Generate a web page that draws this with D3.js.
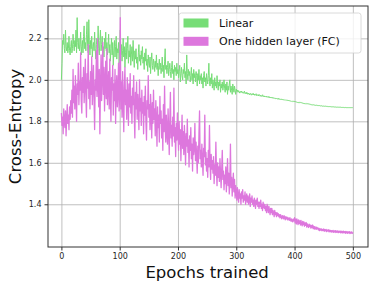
<!doctype html>
<html lang="en">
<head>
<meta charset="utf-8">
<title>Cross-Entropy</title>
<script src="https://cdn.jsdelivr.net/npm/d3@7"></script>
<style>
    body { margin: 0; background: #fff; }
    svg text { font-family: "DejaVu Sans", sans-serif; }
    .grid line { stroke: #b0b0b0; stroke-width: 0.8; }
    .grid path { stroke: none; }
    .tick text { fill: #262626; font-size: 8px; }
</style>
</head>
<body>
<svg width="374" height="287"></svg>
<script>
// one value per epoch, 0 .. 500
var series = ["Linear", "One hidden layer (FC)"];
var xTicks = [0, 100, 200, 300, 400, 500];
var yTicks = [1.4, 1.6, 1.8, 2.0, 2.2];

var linear = [
    2.00, 2.08, 2.19, 2.17, 2.22, 2.15, 2.13, 2.24, 2.16, 2.14,
    2.18, 2.13, 2.15, 2.21, 2.14, 2.12, 2.16, 2.19, 2.13, 2.15,
    2.22, 2.17, 2.14, 2.19, 2.16, 2.24, 2.13, 2.30, 2.18, 2.15,
    2.20, 2.14, 2.17, 2.23, 2.12, 2.16, 2.19, 2.13, 2.21, 2.26,
    2.15, 2.18, 2.14, 2.22, 2.28, 2.16, 2.13, 2.29, 2.17, 2.12,
    2.19, 2.15, 2.21, 2.11, 2.16, 2.18, 2.14, 2.23, 2.15, 2.10,
    2.17, 2.20, 2.13, 2.26, 2.15, 2.12, 2.19, 2.24, 2.14, 2.17,
    2.21, 2.13, 2.16, 2.11, 2.20, 2.15, 2.23, 2.14, 2.18, 2.12,
    2.16, 2.22, 2.13, 2.17, 2.09, 2.15, 2.20, 2.12, 2.18, 2.07,
    2.14, 2.19, 2.11, 2.16, 2.21, 2.10, 2.15, 2.13, 2.18, 2.08,
    2.15, 2.24, 2.12, 2.17, 2.09, 2.14, 2.20, 2.11, 2.16, 2.06,
    2.13, 2.18, 2.10, 2.15, 2.21, 2.08, 2.14, 2.11, 2.17, 2.07,
    2.12, 2.16, 2.09, 2.19, 2.11, 2.06, 2.14, 2.10, 2.15, 2.08,
    2.11, 2.05, 2.13, 2.17, 2.09, 2.12, 2.07, 2.14, 2.10, 2.16,
    2.08, 2.11, 2.05, 2.13, 2.09, 2.15, 2.07, 2.10, 2.04, 2.12,
    2.08, 2.06, 2.11, 2.03, 2.09, 2.13, 2.07, 2.05, 2.10, 2.08,
    2.04, 2.09, 2.06, 2.12, 2.05, 2.08, 2.02, 2.07, 2.10, 2.05,
    2.08, 2.03, 2.06, 2.11, 2.04, 2.07, 2.01, 2.09, 2.15, 2.05,
    2.07, 2.03, 2.06, 2.09, 2.02, 2.05, 2.08, 2.04, 2.01, 2.06,
    2.09, 2.03, 2.05, 2.00, 2.07, 2.04, 2.06, 2.02, 2.08, 2.03,
    2.05, 2.01, 2.04, 2.07, 1.99, 2.03, 2.06, 2.02, 2.00, 2.05,
    2.03, 2.08, 2.01, 2.04, 1.98, 2.12, 2.03, 2.00, 2.05, 2.02,
    2.04, 1.99, 2.02, 2.06, 2.00, 2.03, 1.98, 2.05, 2.01, 2.03,
    1.99, 2.04, 2.02, 1.97, 2.03, 2.00, 2.05, 1.98, 2.02, 2.00,
    2.03, 1.98, 2.01, 1.96, 2.02, 2.04, 1.99, 2.01, 1.97, 2.03,
    2.00, 1.98, 2.02, 2.08, 1.99, 1.97, 2.01, 1.98, 2.03, 1.96,
    2.00, 1.98, 1.95, 2.01, 1.97, 1.99, 1.96, 2.02, 1.98, 1.95,
    1.99, 1.97, 2.00, 1.94, 1.98, 1.96, 1.99, 1.95, 1.97, 2.00,
    1.96, 1.94, 1.98, 1.95, 1.99, 1.93, 1.97, 1.95, 1.98, 2.00,
    1.94, 1.97, 1.95, 1.93, 1.98, 1.96, 1.94, 1.97, 1.95, 1.93,
    1.955, 1.945, 1.95, 1.94, 1.948, 1.942, 1.936, 1.944, 1.94, 1.946,
    1.938, 1.942, 1.935, 1.94, 1.945, 1.934, 1.938, 1.932, 1.94, 1.936,
    1.93, 1.936, 1.932, 1.928, 1.935, 1.93, 1.926, 1.933, 1.929, 1.935,
    1.927, 1.931, 1.925, 1.929, 1.933, 1.924, 1.928, 1.926, 1.922, 1.93,
    1.925, 1.921, 1.926, 1.92, 1.924, 1.928, 1.919, 1.923, 1.918, 1.922,
    1.92, 1.917, 1.921, 1.916, 1.919, 1.915, 1.92, 1.914, 1.917, 1.913,
    1.916, 1.912, 1.915, 1.911, 1.914, 1.91, 1.913, 1.91, 1.908, 1.912,
    1.909, 1.907, 1.911, 1.906, 1.909, 1.905, 1.908, 1.904, 1.907, 1.905,
    1.906, 1.903, 1.905, 1.902, 1.904, 1.901, 1.903, 1.90, 1.902, 1.899,
    1.901, 1.898, 1.90, 1.897, 1.899, 1.896, 1.898, 1.895, 1.897, 1.894,
    1.896, 1.893, 1.895, 1.892, 1.894, 1.891, 1.893, 1.89, 1.892, 1.889,
    1.891, 1.888, 1.89, 1.887, 1.889, 1.886, 1.888, 1.885, 1.887, 1.884,
    1.886, 1.884, 1.885, 1.883, 1.884, 1.882, 1.883, 1.881, 1.882, 1.88,
    1.881, 1.879, 1.88, 1.879, 1.878, 1.879, 1.877, 1.878, 1.877, 1.876,
    1.877, 1.876, 1.875, 1.876, 1.875, 1.874, 1.875, 1.874, 1.873, 1.874,
    1.873, 1.873, 1.872, 1.873, 1.872, 1.872, 1.871, 1.872, 1.871, 1.871,
    1.871, 1.870, 1.871, 1.870, 1.870, 1.870, 1.869, 1.870, 1.869, 1.869,
    1.869, 1.869, 1.868, 1.869, 1.868, 1.868, 1.868, 1.868, 1.867, 1.868,
    1.867, 1.867, 1.867, 1.867, 1.867, 1.867, 1.866, 1.867, 1.866, 1.866,
    1.866, 1.866, 1.866, 1.866, 1.866, 1.866, 1.866, 1.866, 1.866, 1.866,
    1.866
];

var hidden = [
    1.84, 1.78, 1.82, 1.74, 1.86, 1.80, 1.77, 1.85, 1.73, 1.81,
    1.88, 1.79, 1.83, 1.76, 1.87, 1.81, 1.90, 1.84, 1.95, 1.82,
    2.05, 1.89, 1.97, 1.86, 2.02, 1.92, 1.80, 1.98, 1.93, 2.08,
    1.88, 1.99, 1.95, 2.13, 1.90, 1.84, 2.01, 1.94, 2.06, 1.89,
    1.97, 2.10, 1.92, 1.82, 2.03, 1.96, 2.17, 1.91, 1.99, 1.86,
    2.04, 1.93, 2.11, 1.88, 1.97, 2.07, 1.90, 1.76, 2.00, 1.95,
    2.14, 1.92, 2.20, 1.98, 1.87, 2.05, 1.74, 1.96, 2.12, 1.90,
    2.02, 2.18, 1.93, 2.06, 1.85, 1.99, 2.09, 1.91, 2.15, 1.88,
    1.97, 2.04, 1.86, 2.10, 1.93, 1.80, 2.01, 1.95, 2.07, 1.83,
    1.98, 1.90, 2.05, 1.79, 1.96, 2.02, 1.87, 1.94, 2.08, 1.85,
    1.93, 2.30, 1.86, 1.99, 1.82, 2.04, 1.90, 1.75, 1.97, 2.06,
    1.88, 1.95, 1.81, 2.01, 1.91, 1.78, 1.98, 1.87, 2.03, 1.84,
    1.92, 1.79, 1.96, 1.88, 2.02, 1.83, 1.72, 1.94, 1.86, 1.99,
    1.81, 1.93, 1.87, 1.76, 2.00, 1.85, 1.91, 1.78, 1.95, 1.84,
    1.89, 1.74, 1.92, 1.83, 1.97, 1.80, 1.71, 1.90, 1.86, 2.02,
    1.82, 1.88, 1.76, 1.93, 1.84, 1.72, 1.89, 1.79, 1.95, 1.81,
    1.86, 1.73, 1.90, 1.80, 1.68, 1.87, 1.77, 1.83, 1.70, 1.92,
    1.79, 1.85, 1.72, 1.81, 1.66, 1.88, 1.75, 1.97, 1.78, 1.70,
    1.83, 1.74, 1.69, 1.86, 1.76, 1.64, 1.80, 1.94, 1.72, 1.78,
    1.68, 1.82, 1.73, 1.96, 1.70, 1.77, 1.63, 1.79, 1.71, 1.84,
    1.74, 1.66, 1.80, 1.69, 1.76, 1.61, 1.72, 1.83, 1.67, 1.75,
    1.64, 1.78, 1.70, 1.59, 1.74, 1.68, 1.81, 1.65, 1.71, 1.58,
    1.73, 1.66, 1.77, 1.62, 1.69, 1.56, 1.72, 1.64, 1.67, 1.79,
    1.61, 1.70, 1.63, 1.55, 1.68, 1.60, 1.74, 1.85, 1.62, 1.66,
    1.58, 1.69, 1.61, 1.54, 1.67, 1.63, 1.83, 1.59, 1.65, 1.56,
    1.62, 1.53, 1.66, 1.58, 1.78, 1.60, 1.52, 1.64, 1.57, 1.61,
    1.55, 1.63, 1.50, 1.59, 1.54, 1.70, 1.56, 1.49, 1.60, 1.53,
    1.58, 1.51, 1.62, 1.55, 1.48, 1.57, 1.66, 1.52, 1.56, 1.47,
    1.54, 1.50, 1.58, 1.46, 1.53, 1.62, 1.49, 1.55, 1.45, 1.51,
    1.69, 1.48, 1.53, 1.44, 1.50, 1.55, 1.46, 1.52, 1.43, 1.49,
    1.46, 1.42, 1.48, 1.44, 1.41, 1.47, 1.43, 1.45, 1.40, 1.46,
    1.43, 1.47, 1.41, 1.44, 1.42, 1.46, 1.40, 1.43, 1.45, 1.41,
    1.44, 1.40, 1.42, 1.45, 1.39, 1.43, 1.41, 1.44, 1.40, 1.42,
    1.39, 1.43, 1.41, 1.38, 1.42, 1.40, 1.43, 1.39, 1.41, 1.38,
    1.41, 1.39, 1.42, 1.38, 1.40, 1.37, 1.41, 1.39, 1.38, 1.40,
    1.37, 1.39, 1.36, 1.40, 1.38, 1.36, 1.39, 1.37, 1.35, 1.38,
    1.36, 1.38, 1.35, 1.37, 1.36, 1.34, 1.37, 1.35, 1.36, 1.34,
    1.36, 1.345, 1.355, 1.34, 1.35, 1.335, 1.35, 1.34, 1.33, 1.345,
    1.34, 1.33, 1.345, 1.335, 1.325, 1.34, 1.33, 1.338, 1.325, 1.335,
    1.33, 1.322, 1.335, 1.325, 1.318, 1.33, 1.322, 1.315, 1.328, 1.32,
    1.335, 1.31, 1.328, 1.305, 1.33, 1.315, 1.302, 1.325, 1.308, 1.32,
    1.30, 1.322, 1.306, 1.296, 1.318, 1.302, 1.315, 1.294, 1.31, 1.298,
    1.312, 1.29, 1.305, 1.296, 1.288, 1.304, 1.292, 1.30, 1.285, 1.298,
    1.287, 1.30, 1.283, 1.294, 1.28, 1.292, 1.284, 1.279, 1.29, 1.281,
    1.286, 1.276, 1.284, 1.273, 1.282, 1.275, 1.281, 1.272, 1.279, 1.274,
    1.281, 1.27, 1.278, 1.272, 1.279, 1.268, 1.276, 1.271, 1.277, 1.267,
    1.275, 1.268, 1.274, 1.266, 1.273, 1.267, 1.274, 1.265, 1.272, 1.266,
    1.273, 1.264, 1.271, 1.266, 1.272, 1.263, 1.27, 1.265, 1.271, 1.262,
    1.27, 1.263, 1.269, 1.261, 1.27, 1.264, 1.268, 1.26, 1.269, 1.262,
    1.268, 1.26, 1.267, 1.262, 1.268, 1.259, 1.266, 1.261, 1.267, 1.26,
    1.265
];

var colors = ["#77dd77", "#dd77dd"];

var margin = {left: 48, top: 6, right: 6, bottom: 40};
var svg = d3.select("svg");
var width  = 374 - margin.left - margin.right;
var height = 287 - margin.top - margin.bottom;

var svgG = svg.append("g")
    .attr("transform", "translate(" + margin.left + "," + margin.top + ")");

var xScale = d3.scaleLinear()
    .domain([-23, 526])
    .range([0, width]);

var yScale = d3.scaleLinear()
    .domain([1.194, 2.356])
    .range([height, 0]);

// grid
svgG.append("g")
    .attr("class", "grid")
    .attr("transform", "translate(0," + height + ")")
    .call(d3.axisBottom(xScale).tickValues(xTicks).tickSize(-height).tickFormat(""));

svgG.append("g")
    .attr("class", "grid")
    .call(d3.axisLeft(yScale).tickValues(yTicks).tickSize(-width).tickFormat(""));

// lines
var line = d3.line()
    .x(function(d, i) { return xScale(i); })
    .y(function(d) { return yScale(d); });

svgG.append("g")
    .selectAll("path")
    .data([linear, hidden])
    .enter().append("path")
    .attr("fill", "none")
    .attr("stroke", function(d, i) { return colors[i]; })
    .attr("stroke-width", function(d, i) { return i == 0 ? 1 : 1.3; })
    .attr("stroke-linejoin", "round")
    .attr("d", line);

// axes
svgG.append("g")
    .attr("transform", "translate(0," + height + ")")
    .call(d3.axisBottom(xScale).tickValues(xTicks).tickSize(3.5).tickPadding(3))
    .call(function(g) { g.select(".domain").remove(); });

svgG.append("g")
    .call(d3.axisLeft(yScale).tickValues(yTicks).tickSize(3.5).tickPadding(3).tickFormat(d3.format(".1f")))
    .call(function(g) { g.select(".domain").remove(); });

svgG.selectAll(".tick line").attr("stroke", "#333");

svgG.append("rect")
    .attr("width", width)
    .attr("height", height)
    .attr("fill", "none")
    .attr("stroke", "#333")
    .attr("stroke-width", 1);

// axis labels
svg.append("text")
    .attr("x", margin.left + xScale(250))
    .attr("y", 278)
    .attr("text-anchor", "middle")
    .style("font-size", "16.5px")
    .style("fill", "#111")
    .text("Epochs trained");

svg.append("text")
    .attr("transform", "translate(21," + (margin.top + height / 2) + ") rotate(-90)")
    .attr("text-anchor", "middle")
    .style("font-size", "16.5px")
    .style("fill", "#111")
    .text("Cross-Entropy");

// legend
var legend = svg.append("g")
    .attr("transform", "translate(179,13)");

legend.append("rect")
    .attr("width", 182)
    .attr("height", 40)
    .attr("rx", 2.5)
    .attr("fill", "#fff")
    .attr("fill-opacity", 0.8)
    .attr("stroke", "#d0d0d0")
    .attr("stroke-width", 0.8);

var item = legend.selectAll(".item")
    .data(series)
    .enter().append("g")
    .attr("class", "item")
    .attr("transform", function(d, i) { return "translate(0," + (i * 18.3) + ")"; });

item.append("rect")
    .attr("x", 4.5)
    .attr("y", 5.5)
    .attr("width", 25)
    .attr("height", 9)
    .attr("fill", function(d, i) { return colors[i]; });

item.append("text")
    .attr("x", 40)
    .attr("y", 10)
    .attr("dy", "0.35em")
    .style("font-size", "11px")
    .style("fill", "#111")
    .text(function(d) { return d; });
</script>
</body>
</html>
